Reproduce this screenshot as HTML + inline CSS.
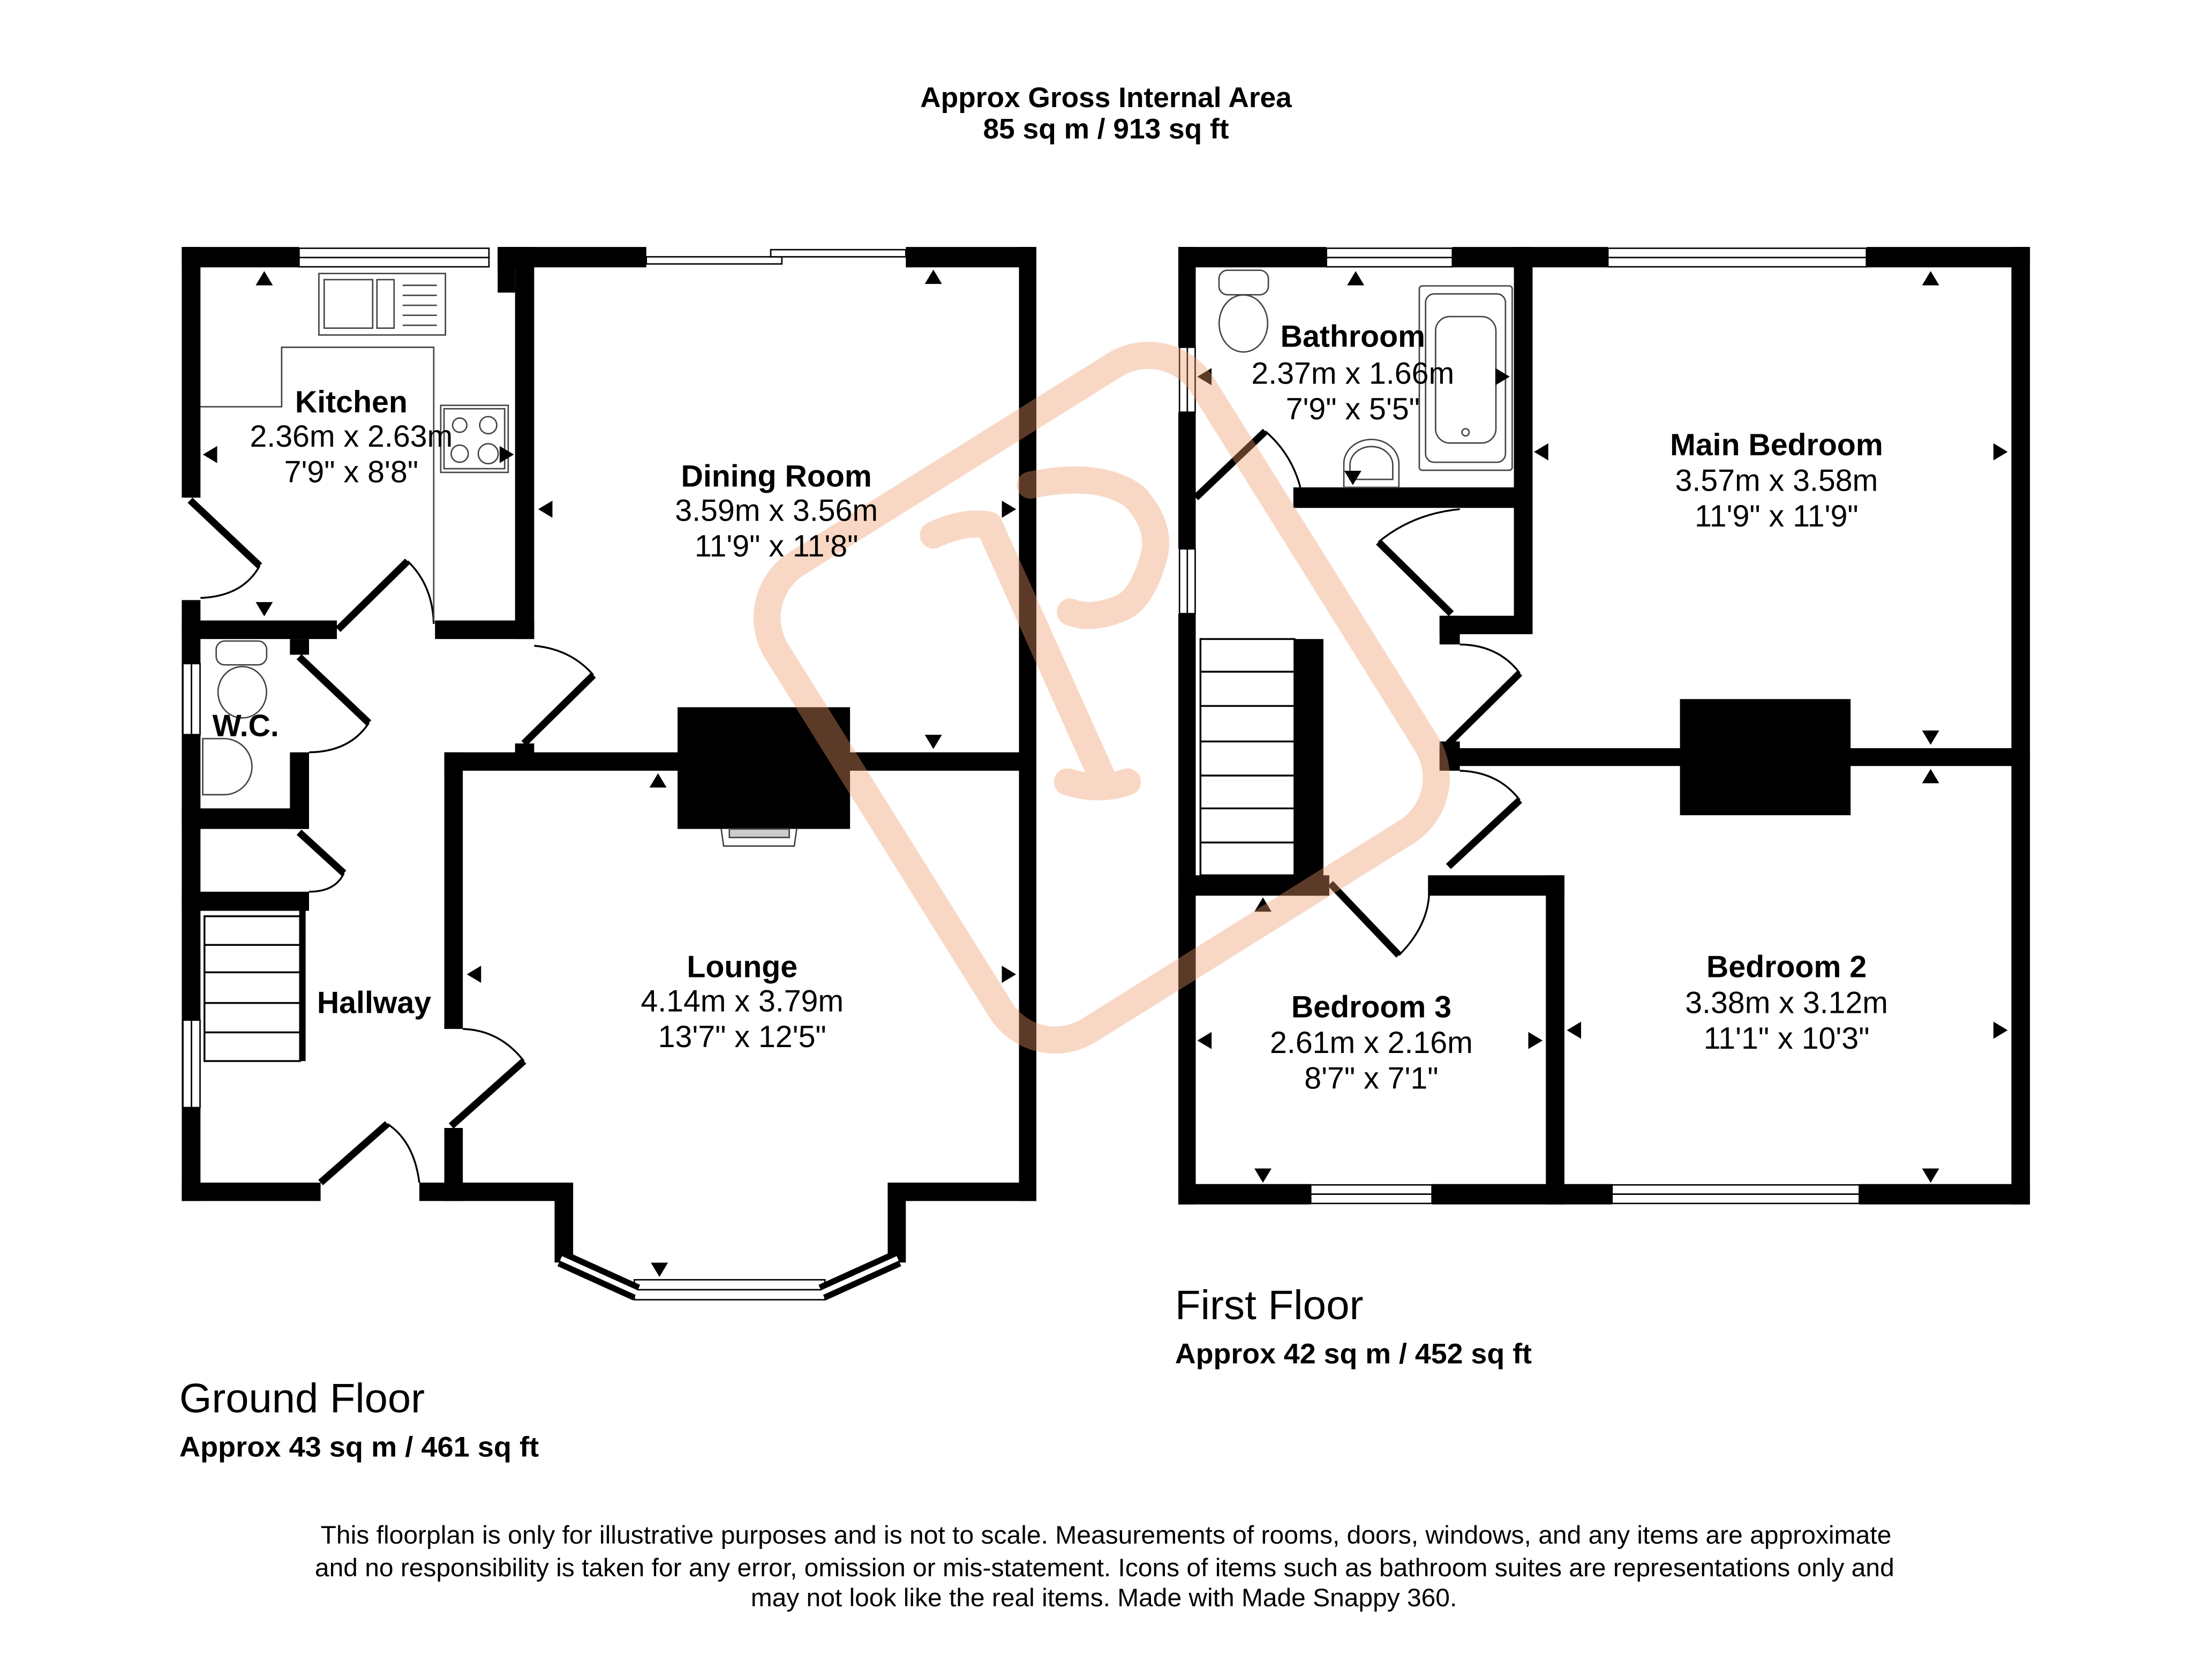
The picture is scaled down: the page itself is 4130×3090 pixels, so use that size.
<!DOCTYPE html>
<html><head><meta charset="utf-8"><style>
html,body{margin:0;padding:0;background:#fff}
svg{display:block}
text{font-family:"Liberation Sans",Arial,sans-serif}
.b{font-weight:bold}
</style></head><body>
<svg width="4130" height="3090" viewBox="0 0 1550 1160" xmlns="http://www.w3.org/2000/svg">
<rect width="1550" height="1160" fill="#fff"/>
<text x="775" y="75" text-anchor="middle" class="b" font-size="20">Approx Gross Internal Area</text>
<text x="775" y="97" text-anchor="middle" class="b" font-size="20">85 sq m / 913 sq ft</text>

<g fill="#000">
<!-- GROUND FLOOR -->
<rect x="127.2" y="173.1" width="82.2" height="14.3"/>
<rect x="348.6" y="173.1" width="104.2" height="14.3"/>
<rect x="348.6" y="173.1" width="12.2" height="32"/>
<rect x="634.7" y="173.1" width="91.5" height="14.3"/>
<rect x="714" y="173.1" width="12.2" height="668.7"/>
<rect x="127.2" y="173.1" width="13.1" height="175.7"/>
<rect x="127.2" y="420.6" width="13.1" height="421.2"/>
<rect x="127.2" y="828.9" width="97.3" height="12.9"/>
<rect x="293.7" y="828.9" width="107.8" height="12.9"/>
<rect x="622" y="828.9" width="104.2" height="12.9"/>
<rect x="388.5" y="828.9" width="13" height="56"/>
<rect x="622" y="828.9" width="12.7" height="56"/>
<rect x="127.2" y="434.9" width="108.7" height="13"/>
<rect x="304.7" y="434.9" width="69.5" height="13"/>
<rect x="360.8" y="173.1" width="13.4" height="274.8"/>
<rect x="360.8" y="521.1" width="13.4" height="8"/>
<rect x="311.2" y="527.3" width="415" height="12.9"/>
<rect x="474.7" y="495.7" width="120.9" height="85.3"/>
<rect x="311.2" y="527.3" width="13" height="193.9"/>
<rect x="311.2" y="790.6" width="13" height="51.2"/>
<rect x="203" y="447.9" width="13.4" height="11"/>
<rect x="203" y="527.3" width="13.4" height="53.7"/>
<rect x="127.2" y="566.6" width="89.2" height="14.4"/>
<rect x="127.2" y="625" width="89.2" height="13.4"/>
<rect x="209.5" y="638" width="4.5" height="105.7"/>

<!-- FIRST FLOOR -->
<rect x="825.7" y="173.1" width="103.8" height="14.3"/>
<rect x="1017.8" y="173.1" width="109" height="14.3"/>
<rect x="1308" y="173.1" width="114.6" height="14.3"/>
<rect x="1409.6" y="173.1" width="13" height="671.1"/>
<rect x="825.7" y="173.1" width="12.2" height="70.3"/>
<rect x="825.7" y="288.9" width="12.2" height="95.8"/>
<rect x="825.7" y="430.1" width="12.2" height="414.1"/>
<rect x="825.7" y="829.9" width="92.8" height="14.3"/>
<rect x="1003.5" y="829.9" width="126.2" height="14.3"/>
<rect x="1303" y="829.9" width="119.6" height="14.3"/>
<rect x="906.3" y="341.6" width="167.7" height="14.4"/>
<rect x="1060.9" y="173.1" width="13.1" height="271.4"/>
<rect x="1008.8" y="431.6" width="65.2" height="12.9"/>
<rect x="1008.8" y="431.6" width="14.2" height="20.1"/>
<rect x="1008.8" y="524.4" width="413.8" height="12.5"/>
<rect x="1008.8" y="519.7" width="14.2" height="20.5"/>
<rect x="1177.3" y="490" width="119.6" height="81.4"/>
<rect x="907.1" y="447.9" width="20.3" height="179.9"/>
<rect x="825.7" y="613.5" width="105.8" height="14.3"/>
<rect x="1000.7" y="613.5" width="95.6" height="14.3"/>
<rect x="1083.3" y="613.5" width="13" height="230.7"/>
</g>

<!-- windows -->
<g fill="#fff" stroke="#000" stroke-width="1">
<rect x="209.4" y="174" width="133.1" height="6.5"/><rect x="209.4" y="180.5" width="133.1" height="6.5"/>
<rect x="452.8" y="180" width="95" height="5"/><rect x="540" y="175" width="94.7" height="5"/>
<rect x="128" y="465.1" width="6" height="49.8"/><rect x="134" y="465.1" width="6" height="49.8"/>
<rect x="128" y="715" width="6" height="61.3"/><rect x="134" y="715" width="6" height="61.3"/>
<rect x="929.5" y="174" width="88.3" height="6.5"/><rect x="929.5" y="180.5" width="88.3" height="6.5"/>
<rect x="1126.8" y="174" width="181.2" height="6.5"/><rect x="1126.8" y="180.5" width="181.2" height="6.5"/>
<rect x="826.5" y="243.4" width="5.5" height="45.5"/><rect x="832" y="243.4" width="5.5" height="45.5"/>
<rect x="826.5" y="384.7" width="5.5" height="45.4"/><rect x="832" y="384.7" width="5.5" height="45.4"/>
<rect x="918.5" y="830.5" width="85" height="6.5"/><rect x="918.5" y="837" width="85" height="6.5"/>
<rect x="1129.7" y="830.5" width="173.3" height="6.5"/><rect x="1129.7" y="837" width="173.3" height="6.5"/>
<rect x="444.4" y="897" width="133.6" height="7"/><rect x="444.4" y="904" width="133.6" height="7"/>
</g>
<g stroke="#000" stroke-width="12" fill="none"><path d="M393 882 L446 906"/><path d="M629 882 L576 906"/></g>
<g stroke="#fff" stroke-width="3.5" fill="none"><path d="M393 882 L446 906"/><path d="M629 882 L576 906"/></g>

<!-- doors -->
<g stroke="#000" stroke-width="5" fill="none">
<path d="M133 350.6 L181.8 396.6"/><path d="M236.7 441.2 L285.5 393.3"/><path d="M367 521.1 L415.7 473.2"/>
<path d="M209.4 460.3 L258.3 506.7"/><path d="M209.4 583.3 L240.8 612"/><path d="M316 789.2 L367 743.7"/>
<path d="M224.5 828.9 L271.3 787.7"/>
<path d="M837.9 348.8 L886.7 302.3"/><path d="M966 379.9 L1017 430.1"/><path d="M1015 521.1 L1065 471.8"/>
<path d="M1015 607.3 L1065 560.8"/><path d="M932.3 619.2 L980.3 669.5"/>
</g>
<g stroke="#000" stroke-width="1.3" fill="none">
<path d="M181.8 396.6 Q170 418 140.3 419.1"/><path d="M285.5 393.3 Q303 410 303.8 437.3"/><path d="M415.7 473.2 Q400 455 374.2 452.6"/>
<path d="M258.3 506.7 Q245 527 216.4 527.3"/><path d="M240.8 612 Q235 625 216.4 625"/><path d="M367 743.7 Q350 722 324.2 721.2"/>
<path d="M271.3 787.7 Q290 800 293.7 828.9"/>
<path d="M886.7 302.3 Q905 318 911.2 341.6"/><path d="M966 379.9 Q990 360 1023 356.9"/><path d="M1065 471.8 Q1050 452 1023 451.7"/>
<path d="M1065 560.8 Q1050 541 1023 540.2"/><path d="M980.3 669.5 Q1000 650 1001.5 627"/>
</g>

<!-- fittings -->
<g stroke="#444" stroke-width="1" fill="none">
<path d="M140.3 285.1 H197.2 V243.4 H303.8 V434.9"/>
<rect x="223.3" y="191.7" width="88.7" height="43.1"/><rect x="227" y="196" width="34" height="34"/><rect x="264" y="196" width="12" height="34"/>
<path d="M282 200h24M282 207h24M282 214h24M282 221h24M282 228h24"/>
<rect x="308.7" y="284.1" width="47.3" height="47"/><rect x="311" y="286.5" width="42.5" height="42"/>
<circle cx="322" cy="298" r="5"/><circle cx="342" cy="298" r="6"/><circle cx="322" cy="318" r="6"/><circle cx="342" cy="318" r="7"/>
<rect x="151.3" y="449.3" width="35.4" height="16.7" rx="6"/><ellipse cx="169.6" cy="485.2" rx="17" ry="18"/>
<path d="M141.9 517.7 H158 A19.8 19.7 0 0 1 158 557 H141.9 Z"/>
<path d="M505.3 581 L507 593 H556.5 L558.2 581"/><rect x="511" y="581" width="42" height="6" fill="#ccc"/>
<rect x="854.2" y="189.4" width="34.6" height="17.2" rx="6"/><ellipse cx="871.3" cy="226.7" rx="17" ry="20"/>
<rect x="994.6" y="200.4" width="65.1" height="129.2" rx="2"/><rect x="999" y="206" width="56" height="118" rx="6"/><rect x="1006" y="221.9" width="42.3" height="88.6" rx="10"/>
<circle cx="1027" cy="303" r="2.5"/>
<path d="M941.7 341.6 V325 A19.3 17 0 0 1 980.3 325 V341.6 Z"/><path d="M946 336 V326 A15 13 0 0 1 976 326 V336 Z"/>
</g>
<!-- stairs -->
<g stroke="#000" stroke-width="1.3" fill="none">
<rect x="143.1" y="642.2" width="67" height="101.5"/>
<path d="M143.1 662.3h67M143.1 681.5h67M143.1 703h67M143.1 723.6h67"/>
<rect x="841.2" y="447.9" width="65.9" height="165.6"/>
<path d="M841.2 470.8h66M841.2 494.8h66M841.2 519.7h66M841.2 543.6h66M841.2 566.6h66M841.2 590.5h66"/>
</g>

<!-- arrows -->
<g fill="#000">
<path d="M179 200 l6 -10 l6 10z"/><path d="M179 422 l6 10 l6 -10z"/>
<path d="M152 312.6 l-10 6 l10 6z"/><path d="M350 312.6 l10 6 l-10 6z"/>
<path d="M648 199 l6 -10 l6 10z"/><path d="M648 515 l6 10 l6 -10z"/>
<path d="M387 350.9 l-10 6 l10 6z"/><path d="M702 350.9 l10 6 l-10 6z"/>
<path d="M455 552 l6 -10 l6 10z"/><path d="M456 885 l6 10 l6 -10z"/>
<path d="M337 676.9 l-10 6 l10 6z"/><path d="M702 676.9 l10 6 l-10 6z"/>
<path d="M944 200 l6 -10 l6 10z"/><path d="M942 330 l6 10 l6 -10z"/>
<path d="M849 258 l-10 6 l10 6z"/><path d="M1048 258 l10 6 l-10 6z"/>
<path d="M1347 200 l6 -10 l6 10z"/><path d="M1347 512 l6 10 l6 -10z"/>
<path d="M1085 310.7 l-10 6 l10 6z"/><path d="M1397 310.7 l10 6 l-10 6z"/>
<path d="M1347 549 l6 -10 l6 10z"/><path d="M1347 819 l6 10 l6 -10z"/>
<path d="M1108 716.1 l-10 6 l10 6z"/><path d="M1397 716.1 l10 6 l-10 6z"/>
<path d="M879 639 l6 -10 l6 10z"/><path d="M879 819 l6 10 l6 -10z"/>
<path d="M849 723.3 l-10 6 l10 6z"/><path d="M1071 723.3 l10 6 l-10 6z"/>
</g>

<!-- watermark -->
<g opacity="0.38" fill="none" stroke="#ef9a68" stroke-width="19" stroke-linecap="round" stroke-linejoin="round">
<rect x="579" y="313" width="386" height="352" rx="45" transform="rotate(58 772 489)"/>
<path d="M654 375 Q675 365 693 368 L772 544"/>
<path d="M722 340 Q770 330 795 348 Q815 370 808 392 Q800 420 786 426 Q765 435 750 429"/>
<path d="M748 548 Q770 555 790 548"/>
</g>

<!-- labels -->
<g text-anchor="middle" font-size="21.5">
<text x="246" y="289" class="b">Kitchen</text><text x="246" y="313">2.36m x 2.63m</text><text x="246" y="338">7'9" x 8'8"</text>
<text x="544" y="341" class="b">Dining Room</text><text x="544" y="365">3.59m x 3.56m</text><text x="544" y="390">11'9" x 11'8"</text>
<text x="172" y="516" class="b">W.C.</text>
<text x="262" y="710" class="b">Hallway</text>
<text x="520" y="685" class="b">Lounge</text><text x="520" y="709">4.14m x 3.79m</text><text x="520" y="734">13'7" x 12'5"</text>
<text x="948" y="243" class="b">Bathroom</text><text x="948" y="269">2.37m x 1.66m</text><text x="948" y="294">7'9" x 5'5"</text>
<text x="1245" y="319" class="b">Main Bedroom</text><text x="1245" y="344">3.57m x 3.58m</text><text x="1245" y="369">11'9" x 11'9"</text>
<text x="1252" y="685" class="b">Bedroom 2</text><text x="1252" y="710">3.38m x 3.12m</text><text x="1252" y="735">11'1" x 10'3"</text>
<text x="961" y="713" class="b">Bedroom 3</text><text x="961" y="738">2.61m x 2.16m</text><text x="961" y="763">8'7" x 7'1"</text>
</g>

<text x="125.5" y="990" font-size="29" textLength="172" lengthAdjust="spacingAndGlyphs">Ground Floor</text>
<text x="125.5" y="1021" class="b" font-size="20" textLength="252" lengthAdjust="spacingAndGlyphs">Approx 43 sq m / 461 sq ft</text>
<text x="823.4" y="924.7" font-size="29" textLength="132" lengthAdjust="spacingAndGlyphs">First Floor</text>
<text x="823.4" y="955.5" class="b" font-size="20" textLength="250" lengthAdjust="spacingAndGlyphs">Approx 42 sq m / 452 sq ft</text>

<g font-size="17.8">
<text x="224.5" y="1082" textLength="1101" lengthAdjust="spacingAndGlyphs">This floorplan is only for illustrative purposes and is not to scale. Measurements of rooms, doors, windows, and any items are approximate</text>
<text x="220.5" y="1104.8" textLength="1107" lengthAdjust="spacingAndGlyphs">and no responsibility is taken for any error, omission or mis-statement. Icons of items such as bathroom suites are representations only and</text>
<text x="526" y="1125.8" textLength="495" lengthAdjust="spacingAndGlyphs">may not look like the real items. Made with Made Snappy 360.</text>
</g>
</svg>
</body></html>
